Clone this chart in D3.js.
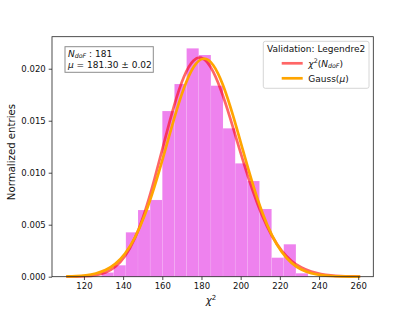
<!DOCTYPE html>
<html lang="en">
<head>
    <meta charset="UTF-8">
    <title>chi2 validation</title>
    <script src="https://cdnjs.cloudflare.com/ajax/libs/d3/7.8.5/d3.min.js"></script>
    <style>
        body { margin: 0; background: #fff; }
        svg { display: block; font-family: 'DejaVu Sans', sans-serif; }
    </style>
</head>
<body>
    <div id="wrapper"></div>
    <script>
        // histogram (density normalised)
        const binEdges = [129.0, 135.2, 141.4, 147.6, 153.8, 160.0, 166.2, 172.4, 178.6,
            184.8, 191.0, 197.2, 203.4, 209.6, 215.8, 222.0, 228.2, 234.4]
        const binDensity = [0.0004, 0.0011, 0.00427, 0.00641, 0.00738, 0.01593, 0.01853,
            0.02196, 0.02132, 0.01837, 0.01427, 0.0109, 0.0092, 0.00651, 0.00183, 0.00312, 0.00033]

        // curves
        const curveX = [111, 116, 121, 126, 131, 136, 141, 146, 151, 156, 161, 166, 171, 176, 181,
            186, 191, 196, 201, 206, 211, 216, 221, 226, 231, 236, 241, 246, 251, 256, 261]
        const chi2Values = [0.0000033, 0.0000139, 0.0000498, 0.000153, 0.000409, 0.000960, 0.001995,
            0.003705, 0.006191, 0.009381, 0.012964, 0.016437, 0.019212, 0.020799, 0.020948,
            0.019706, 0.017374, 0.014409, 0.011273, 0.008344, 0.005858, 0.003912, 0.002489,
            0.001514, 0.000881, 0.000491, 0.000263, 0.000136, 0.0000675, 0.0000324, 0.0000150]
        const gaussValues = [0.0000228, 0.0000582, 0.000138, 0.000307, 0.000637, 0.001233, 0.002226,
            0.003753, 0.005902, 0.008664, 0.011868, 0.015175, 0.018108, 0.020168, 0.020962,
            0.020335, 0.018411, 0.015557, 0.012268, 0.009029, 0.006203, 0.003976, 0.002379,
            0.001329, 0.000692, 0.000337, 0.000153, 0.000065, 0.000026, 0.0000095, 0.0000033]

        const xTicks = [120, 140, 160, 180, 200, 220, 240, 260]
        const yTicks = [0, 0.005, 0.010, 0.015, 0.020]

        const nDoF = 181
        const muText = '181.30'
        const muErr = '0.02'
        const legendTitle = 'Validation: Legendre2'

        const dimensions = {
            width: 415,
            height: 311,
            margin: { top: 36.7, right: 41.7, bottom: 34.3, left: 52 }
        }
        dimensions.boundedWidth = dimensions.width - dimensions.margin.left - dimensions.margin.right
        dimensions.boundedHeight = dimensions.height - dimensions.margin.top - dimensions.margin.bottom

        const svg = d3.select('#wrapper').append('svg')
            .attr('width', dimensions.width)
            .attr('height', dimensions.height)

        const bounds = svg.append('g')
            .attr('transform', `translate(${dimensions.margin.left},${dimensions.margin.top})`)

        const xScale = d3.scaleLinear()
            .domain([103.7, 267.7])
            .range([0, dimensions.boundedWidth])
        const yScale = d3.scaleLinear()
            .domain([0, 0.02308])
            .range([dimensions.boundedHeight, 0])

        // bars
        const bins = binDensity.map((v, i) => ({ x0: binEdges[i], x1: binEdges[i + 1], v }))
        bounds.append('g').selectAll('rect')
            .data(bins)
            .join('rect')
                .attr('x', d => xScale(d.x0))
                .attr('y', d => yScale(d.v))
                .attr('width', d => xScale(d.x1) - xScale(d.x0))
                .attr('height', d => yScale(0) - yScale(d.v))
                .attr('fill', 'violet')
                .attr('stroke', 'rgba(255,255,255,0.14)')
                .attr('stroke-width', 0.6)

        // curves
        const lineGen = values => d3.line()
            .x((d, i) => xScale(curveX[i]))
            .y(d => yScale(d))
            .curve(d3.curveNatural)(values)

        bounds.append('path')
            .attr('d', lineGen(chi2Values))
            .attr('fill', 'none')
            .attr('stroke', 'red')
            .attr('stroke-opacity', 0.6)
            .attr('stroke-width', 2.7)

        bounds.append('path')
            .attr('d', lineGen(gaussValues))
            .attr('fill', 'none')
            .attr('stroke', 'orange')
            .attr('stroke-width', 2.7)

        // axes
        const xAxis = bounds.append('g')
            .attr('transform', `translate(0,${dimensions.boundedHeight})`)
            .call(d3.axisBottom(xScale).tickValues(xTicks).tickSize(3.3).tickPadding(3).tickFormat(d3.format('d')))
        const yAxis = bounds.append('g')
            .call(d3.axisLeft(yScale).tickValues(yTicks).tickSize(3.3).tickPadding(3).tickFormat(d3.format('.3f')))

        ;[xAxis, yAxis].forEach(ax => {
            ax.select('.domain').remove()
            ax.selectAll('line').attr('stroke', '#222').attr('stroke-width', 0.8)
            ax.selectAll('text')
                .attr('fill', '#111')
                .style('font-size', '8.5px')
                .style('font-family', "'DejaVu Sans', sans-serif")
        })

        // frame
        bounds.append('rect')
            .attr('width', dimensions.boundedWidth)
            .attr('height', dimensions.boundedHeight)
            .attr('fill', 'none')
            .attr('stroke', '#222')
            .attr('stroke-width', 0.8)

        // axis labels
        const xLabel = svg.append('text')
            .attr('x', 211)
            .attr('y', 304)
            .attr('text-anchor', 'middle')
            .style('font-size', '10.2px')
            .attr('fill', '#111')
        xLabel.append('tspan').attr('font-style', 'italic').text('χ')
        xLabel.append('tspan').attr('dy', -4.5).style('font-size', '7px').text('2')

        svg.append('text')
            .attr('transform', 'translate(14.5,152) rotate(-90)')
            .attr('text-anchor', 'middle')
            .style('font-size', '10.2px')
            .attr('fill', '#111')
            .text('Normalized entries')

        // info box
        const info = svg.append('g')
        info.append('rect')
            .attr('x', 65).attr('y', 46.7)
            .attr('width', 88.3).attr('height', 25.6)
            .attr('fill', 'white')
            .attr('stroke', '#8c8c8c')
            .attr('stroke-width', 1)
        const line1 = info.append('text')
            .attr('x', 68).attr('y', 56.5)
            .style('font-size', '9px').attr('fill', '#111')
        line1.append('tspan').attr('font-style', 'italic').text('N')
        line1.append('tspan').attr('font-style', 'italic').attr('dy', 1.8).style('font-size', '6.3px').text('doF')
        line1.append('tspan').attr('dy', -1.8).text(` : ${nDoF}`)
        const line2 = info.append('text')
            .attr('x', 68).attr('y', 67.5)
            .style('font-size', '9px').attr('fill', '#111')
        line2.append('tspan').attr('font-style', 'italic').text('μ')
        line2.append('tspan').text(` = ${muText} ± ${muErr}`)

        // legend
        const legend = svg.append('g')
        legend.append('rect')
            .attr('x', 263.3).attr('y', 41.3)
            .attr('width', 105.7).attr('height', 47)
            .attr('rx', 2)
            .attr('fill', 'rgba(255,255,255,0.8)')
            .attr('stroke', '#cccccc')
            .attr('stroke-width', 0.8)
        legend.append('text')
            .attr('x', 316.2).attr('y', 52)
            .attr('text-anchor', 'middle')
            .style('font-size', '9px').attr('fill', '#111')
            .text(legendTitle)

        const legendItems = [
            { color: 'red', opacity: 0.6, y: 63.3 },
            { color: 'orange', opacity: 1, y: 78.3 }
        ]
        legendItems.forEach((it, i) => {
            legend.append('line')
                .attr('x1', 281.7).attr('x2', 302.7)
                .attr('y1', it.y).attr('y2', it.y)
                .attr('stroke', it.color)
                .attr('stroke-opacity', it.opacity)
                .attr('stroke-width', 2.7)
            const t = legend.append('text')
                .attr('x', 308.3).attr('y', it.y + 3.3)
                .style('font-size', '9px').attr('fill', '#111')
            if (i === 0) {
                t.append('tspan').attr('font-style', 'italic').text('χ')
                t.append('tspan').attr('dy', -3.8).style('font-size', '6.3px').text('2')
                t.append('tspan').attr('dy', 3.8).text('(')
                t.append('tspan').attr('font-style', 'italic').text('N')
                t.append('tspan').attr('font-style', 'italic').attr('dy', 1.8).style('font-size', '6.3px').text('doF')
                t.append('tspan').attr('dy', -1.8).text(')')
            } else {
                t.append('tspan').text('Gauss(')
                t.append('tspan').attr('font-style', 'italic').text('μ')
                t.append('tspan').text(')')
            }
        })
    </script>
</body>
</html>
